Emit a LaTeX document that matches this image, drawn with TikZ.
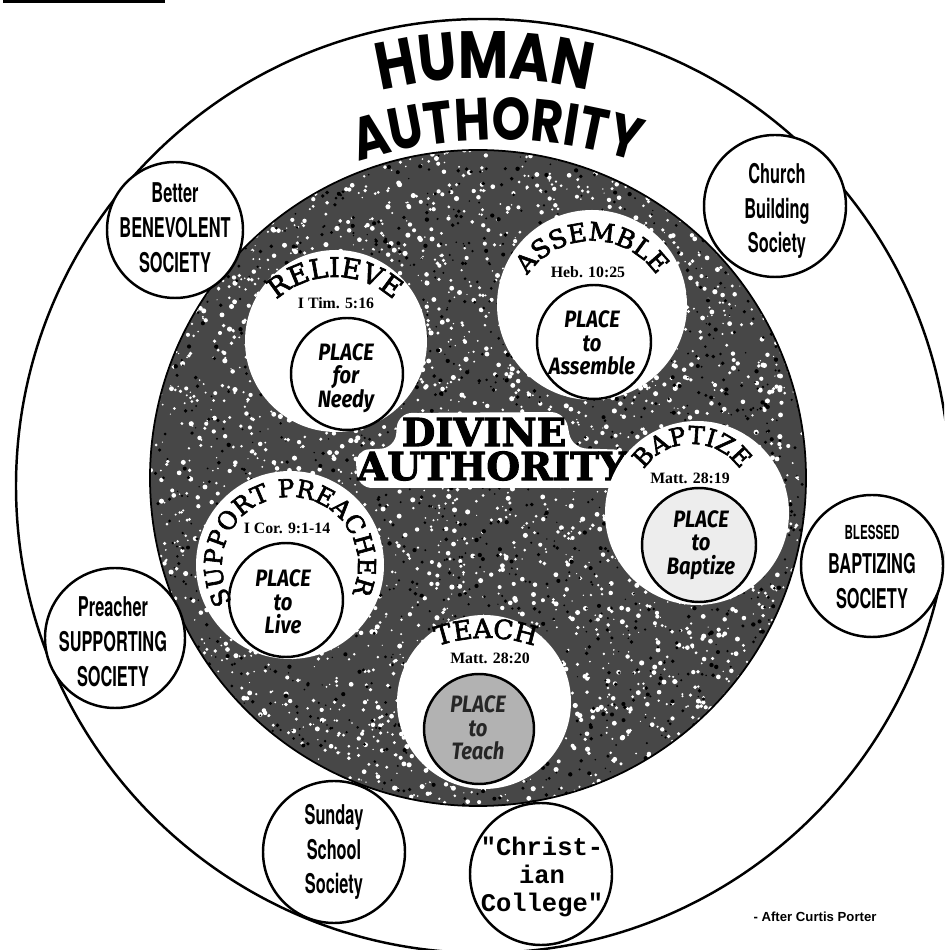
\documentclass[tikz,border=0pt]{standalone}
\usepackage{fontspec}
\setmainfont{DejaVu Serif}
\newfontfamily\condfont[FakeStretch=0.6]{TeX Gyre Heros}
\newfontfamily\humanfont[FakeStretch=0.82]{Poppins}
\newfontfamily\placefont[FakeStretch=0.85]{Fira Sans}
\newfontfamily\refsfont{Liberation Serif}
\newfontfamily\typefont{Liberation Mono}
\newfontfamily\creditfont{Liberation Sans}
\newfontfamily\titlefont[FakeBold=2.5]{DejaVu Serif}
\usetikzlibrary{decorations.text}
\tikzset{
  ring/.style={line width=1.4pt, draw=black, fill=white},
  society/.style={font=\condfont\bfseries\fontsize{15.5}{19.8}\selectfont, align=center, inner sep=0pt},
  placetext/.style={font=\placefont\bfseries\itshape\fontsize{13.5}{13.4}\selectfont, align=center, inner sep=0pt},
  reftext/.style={font=\refsfont\bfseries\fontsize{9}{10}\selectfont, inner sep=0pt},
  bigtitle/.style={font=\titlefont\bfseries\fontsize{22}{22}\selectfont, inner sep=0pt},
}
\begin{document}
\begin{tikzpicture}[x=0.02cm,y=0.02cm]
\useasboundingbox (0,0) rectangle (944,950);
\clip (0,0) rectangle (944,950);
\fill[white] (0,0) rectangle (944,950);
\draw[line width=1.6pt] (3,948.5) -- (165,948.5);
% outer circle
\draw[line width=1.4pt] (483,464) circle[radius=467];
% textured divine circle
\fill[black!72] (478,472) circle[radius=328];
\begin{scope}
  \clip (478,472) circle[radius=328];
  \pgfmathsetseed{7}
  \foreach \i in {1,...,3600} {\fill[white] (150+656*rnd,144+656*rnd) circle[radius=0.6+2*rnd];}
  \foreach \i in {1,...,1800} {\fill[black] (150+656*rnd,144+656*rnd) circle[radius=0.7+1.5*rnd];}
\end{scope}
\draw[line width=1pt] (478,472) circle[radius=328];
% white blob behind DIVINE AUTHORITY
\fill[white, rounded corners=8] (398,537) -- (565,538) -- (572,502) -- (628,500) -- (630,462) -- (358,462) -- (355,500) -- (395,502) -- cycle;
\node[bigtitle] (divine) at (484,518) {DIVINE};
\node[bigtitle] (dauth) at (492,484) {AUTHORITY};
% white disks
\fill[white] (336,609) circle[radius=91];
\fill[white] (592,645) circle[radius=95];
\fill[white] (697,437) circle[radius=92];
\fill[white] (290,385) circle[radius=94];
\fill[white] (484,248) circle[radius=87];
% inner place circles
\draw[line width=1.4pt, fill=white] (347,576) circle[radius=56];
\draw[line width=1.4pt, fill=white] (594,608) circle[radius=57];
\draw[line width=1.4pt, fill=black!7] (699,405) circle[radius=57];
\draw[line width=1.4pt, fill=white] (286,350) circle[radius=57];
\draw[line width=1.4pt, fill=black!30] (479,221) circle[radius=55];
% titles along arcs
\path[decorate, decoration={text along path, text align=center, text={|\titlefont\fontsize{15.5}{15.5}\selectfont|RELIEVE}}]
  (335,587) ++(150:86) arc[start angle=150, end angle=30, radius=86];
\path[decorate, decoration={text along path, text align=center, text={|\titlefont\fontsize{14.5}{14.5}\selectfont|ASSEMBLE}}]
  (592,631) ++(165:78) arc[start angle=165, end angle=15, radius=78];
\path[decorate, decoration={text along path, text align=center, text={|\titlefont\fontsize{14}{14}\selectfont|BAPTIZE}}]
  (692,448) ++(170:58) arc[start angle=170, end angle=10, radius=58];
\path[decorate, decoration={text along path, text align=center, text={|\titlefont\fontsize{14}{14}\selectfont|SUPPORT PREACHER}}]
  (290,385) ++(234:68) arc[start angle=234, end angle=-46, radius=68];
\path[decorate, decoration={text along path, text align=center, text={|\titlefont\fontsize{15}{15}\selectfont|TEACH}}]
  (486,162) ++(115:150) arc[start angle=115, end angle=65, radius=150];
% references
\node[reftext] (r1) at (336,647) {I Tim. 5:16};
\node[reftext] (r2) at (588,678) {Heb. 10:25};
\node[reftext] (r3) at (690,472) {Matt. 28:19};
\node[reftext] (r4) at (287,422) {I Cor. 9:1-14};
\node[reftext] (r5) at (490,292) {Matt. 28:20};
% place texts
\node[placetext] (p1) at (346,572) {PLACE\\for\\Needy};
\node[placetext] (p2) at (592,607) {PLACE\\to\\Assemble};
\node[placetext] (p3) at (701,405) {PLACE\\to\\Baptize};
\node[placetext] (p4) at (283,348) {PLACE\\to\\Live};
\node[placetext, text=black!85] (p5) at (478,222) {PLACE\\to\\Teach};
% human societies
\draw[ring] (175,720) circle[radius=68];
\draw[ring] (775,744) circle[radius=71];
\draw[ring] (872,384) circle[radius=71];
\draw[ring] (115,312) circle[radius=70];
\draw[ring] (334,98) circle[radius=71];
\draw[ring] (541,76) circle[radius=71];
\node[society] (s1) at (175,722) {Better\\BENEVOLENT\\SOCIETY};
\node[society] (s2) at (777,739) {Church\\Building\\Society};
\node[society] (s3) at (872,383) {{\fontsize{11}{19.8}\selectfont BLESSED}\\BAPTIZING\\SOCIETY};
\node[society] (s4) at (113,308) {Preacher\\SUPPORTING\\SOCIETY};
\node[society] (s5) at (334,98) {Sunday\\School\\Society};
\node[font=\typefont\bfseries\fontsize{14.5}{16}\selectfont, align=center, inner sep=0pt] (s6) at (542,73) {"Christ-\\ian\\College"};
% HUMAN AUTHORITY
\path[decorate, decoration={text along path, text align=center, text={|\humanfont\bfseries\fontsize{38}{38}\selectfont|HUMAN}}]
  (485,430) ++(120:442) arc[start angle=120, end angle=60, radius=442];
\path[decorate, decoration={text along path, text align=center, text={|\humanfont\bfseries\fontsize{34}{34}\selectfont|AUTHORITY}}]
  (497,350) ++(125:460) arc[start angle=125, end angle=55, radius=460];
\node[font=\creditfont\bfseries\fontsize{7.5}{9}\selectfont, inner sep=0pt] (credit) at (815,33) {- After Curtis Porter};
\end{tikzpicture}
\end{document}
